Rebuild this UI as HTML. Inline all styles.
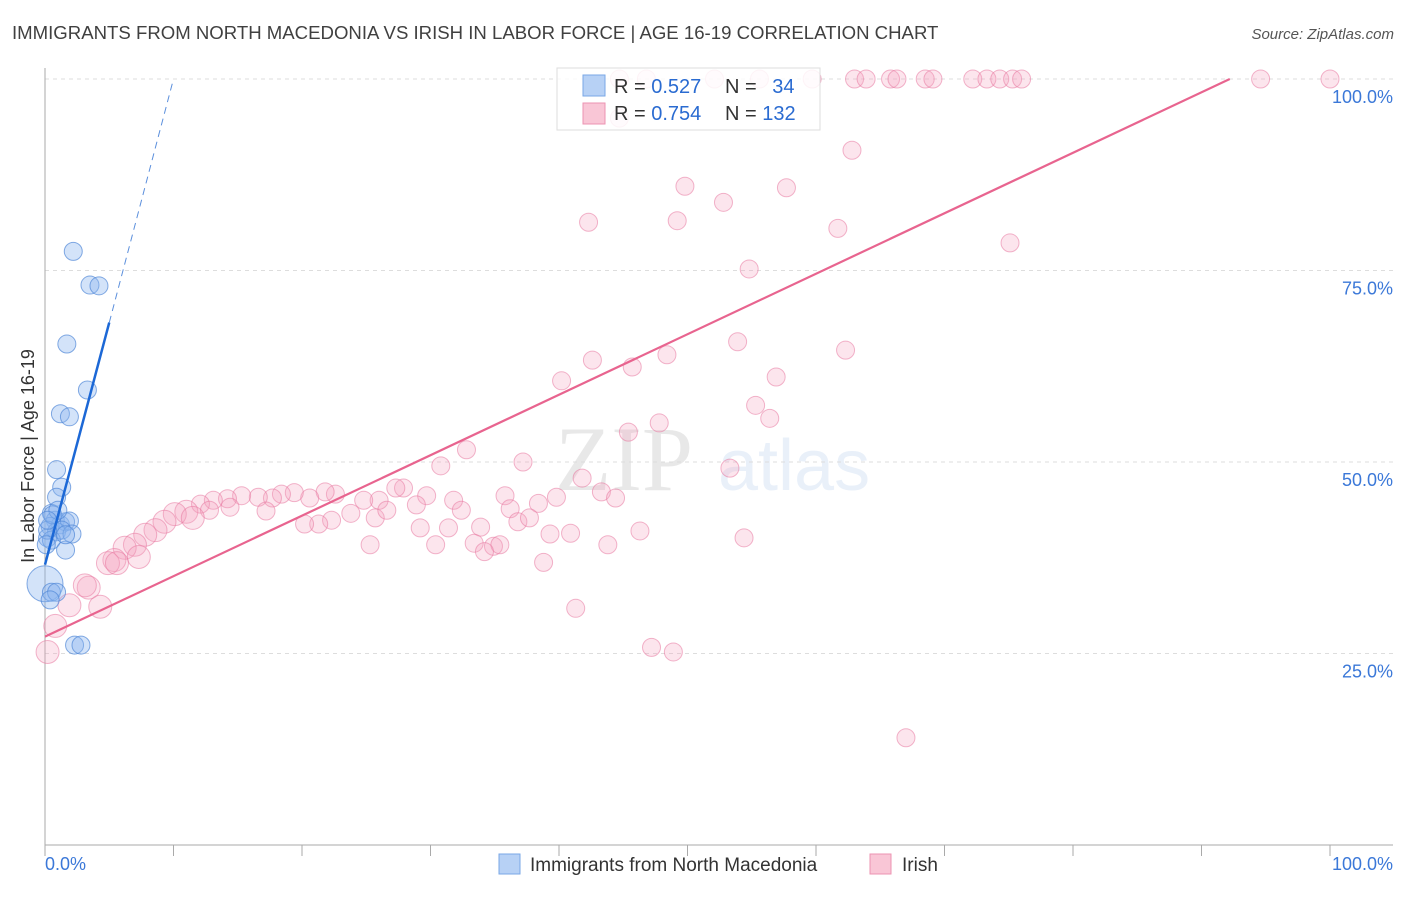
<!DOCTYPE html>
<html><head><meta charset="utf-8"><style>
body{margin:0;background:#fff;font-family:"Liberation Sans",sans-serif}
</style></head><body>
<svg id="chart" width="1406" height="892" xmlns="http://www.w3.org/2000/svg" font-family="Liberation Sans, sans-serif">
<text x="12" y="39" font-size="18.6" fill="#404040">IMMIGRANTS FROM NORTH MACEDONIA VS IRISH IN LABOR FORCE | AGE 16-19 CORRELATION CHART</text>
<text x="1394" y="39" font-size="15" fill="#555" text-anchor="end" font-style="italic">Source: ZipAtlas.com</text>
<text transform="translate(34,456) rotate(-90)" font-size="18" fill="#333" text-anchor="middle">In Labor Force | Age 16-19</text>
<g opacity="0.13"><text x="555" y="490" font-size="92" font-family="Liberation Serif, serif" fill="#555">ZIP</text><text x="718" y="490" font-size="72" fill="#5b8fd8">atlas</text></g>
<g id="grid"></g><g id="axes"></g><g id="pts"></g><g id="lines"></g>
<g>
<rect x="557" y="68" width="263" height="62" fill="#fff" fill-opacity="0.85" stroke="#ddd"/>
<rect x="583" y="75" width="22" height="21" fill="#b7d1f5" stroke="#7aa7e6"/>
<rect x="583" y="103" width="22" height="21" fill="#f9c6d6" stroke="#ec93b2"/>
<text x="614" y="93" font-size="20" fill="#333">R = <tspan fill="#2a6bd1">0.527</tspan></text>
<text x="725" y="93" font-size="20" fill="#333">N = <tspan fill="#2a6bd1" dx="10">34</tspan></text>
<text x="614" y="120" font-size="20" fill="#333">R = <tspan fill="#2a6bd1">0.754</tspan></text>
<text x="725" y="120" font-size="20" fill="#333">N = <tspan fill="#2a6bd1">132</tspan></text>
</g>
<g>
<rect x="499" y="854" width="21" height="20" fill="#b7d1f5" stroke="#7aa7e6"/>
<text x="530" y="871" font-size="19" fill="#333">Immigrants from North Macedonia</text>
<rect x="870" y="854" width="21" height="20" fill="#f9c6d6" stroke="#ec93b2"/>
<text x="902" y="871" font-size="19" fill="#333">Irish</text>
</g>
</svg>
<script>
const blueX=[2.2,3.5,4.2,1.7,3.3,1.2,1.9,0.9,1.3,0.9,0.5,0.8,1.2,1.6,1.9,0.4,0.9,1.3,2.1,0.2,0.5,1.6,0.0,0.5,0.9,0.4,2.3,2.8,0.2,0.6,1.0,0.1,1.6,0.2];
const blueY=[77.5,73.1,73.0,65.4,59.4,56.3,55.9,49.0,46.7,45.4,43.3,42.4,41.8,42.2,42.3,41.6,40.9,41.1,40.6,40.1,39.8,38.5,34.1,33.0,33.0,32.0,26.1,26.1,41.1,43.1,43.7,39.2,40.5,42.4];
const blueBig=[22];
const pinkX=[44.7,46.8,52.1,55.6,59.7,63.0,63.9,65.8,66.3,68.5,69.1,72.2,73.3,74.3,75.3,76.0,94.6,100,
44.7,62.8,49.8,42.3,49.2,52.8,57.7,61.7,75.1,54.8,53.9,62.3,42.6,48.4,45.7,40.2,56.9,55.3,56.4,47.8,45.4,32.8,37.2,30.8,53.3,41.8,43.3,44.4,39.8,35.8,31.8,38.4,36.2,32.4,29.7,28.9,27.9,27.3,26.0,24.8,22.6,21.8,20.6,19.4,18.4,17.7,16.6,15.3,14.2,13.1,12.1,11.0,10.1,9.3,8.6,7.8,7.0,6.2,5.4,4.9,7.3,5.6,3.4,3.1,1.9,4.3,0.8,0.2,
25.7,26.6,23.8,22.3,21.3,20.2,17.2,14.4,12.8,11.5,29.2,31.4,33.9,33.4,34.9,36.8,37.7,35.4,34.2,39.3,40.9,43.8,46.3,54.4,25.3,30.4,38.8,41.3,47.2,48.9,67.0];
const pinkY=[100,100,100,100,100,100,100,100,100,100,100,100,100,100,100,100,100,100,
94.9,90.7,86.0,81.3,81.5,83.9,85.8,80.5,78.6,75.2,65.7,64.6,63.3,64.0,62.4,60.6,61.1,57.4,55.7,55.1,53.9,51.6,50.0,49.5,49.2,47.9,46.1,45.3,45.4,45.6,45.0,44.6,43.9,43.7,45.6,44.4,46.6,46.6,45.0,45.0,45.8,46.1,45.3,46.0,45.8,45.3,45.4,45.6,45.2,45.0,44.5,43.5,43.2,42.2,41.1,40.5,39.2,38.8,37.2,36.8,37.6,36.8,33.6,33.9,31.3,31.1,28.6,25.2,
42.7,43.7,43.3,42.4,41.9,41.9,43.6,44.1,43.7,42.7,41.4,41.4,41.5,39.4,39.0,42.2,42.7,39.2,38.3,40.6,40.7,39.2,41.0,40.1,39.2,39.2,36.9,30.9,25.8,25.2,14.0];
const blueTrend=[0,36.6,5.0,68.2];
const blueDash=[5.0,68.2,10.0,100];
const pinkTrend=[0,27.2,92.2,100];
const yTicks=[25,50,75,100];
const xTickLabels=["0.0%","100.0%"];
const NS="http://www.w3.org/2000/svg";
const X=v=>45+v*12.85, Y=v=>845-v*7.66;
function mk(tag,attrs,parent){const e=document.createElementNS(NS,tag);for(const k in attrs)e.setAttribute(k,attrs[k]);document.getElementById(parent).appendChild(e);return e;}
yTicks.forEach(t=>{
  const l=mk('line',{x1:45,x2:1393,y1:Y(t),y2:Y(t),stroke:'#ddd','stroke-dasharray':'4,4'},'grid');
  
  
  const tx=mk('text',{x:1393,y:Y(t)+24,'font-size':18,fill:'#3b78d8','text-anchor':'end'},'grid');tx.textContent=t.toFixed(1)+'%';
  
  
});
const ax=mk('line',{x1:45,x2:1393,y1:845,y2:845,stroke:'#aaa'},'axes');


const ay=mk('line',{x1:45,x2:45,y1:68,y2:845,stroke:'#aaa'},'axes');


for(let i=0;i<=10;i++){const t=mk('line',{x1:X(i*10),x2:X(i*10),y1:845,y2:856,stroke:'#aaa'},'axes');
  
  }
const xl0=mk('text',{x:45,y:870,'font-size':18,fill:'#3b78d8'},'axes');xl0.textContent=xTickLabels[0];


const xl1=mk('text',{x:1393,y:870,'font-size':18,fill:'#3b78d8','text-anchor':'end'},'axes');xl1.textContent=xTickLabels[1];


pinkX.forEach((x,i)=>{
  const c=mk('circle',{cx:X(x),cy:Y(pinkY[i]),r:(x<12&&pinkY[i]<50)?11.5:9,fill:'rgba(244,160,190,0.28)',stroke:'rgba(232,120,160,0.55)','stroke-width':1},'pts');
  
  
});
blueX.forEach((x,i)=>{
  const c=mk('circle',{cx:X(x),cy:Y(blueY[i]),r:blueBig.includes(i)?18:9,fill:'rgba(140,182,238,0.38)',stroke:'rgba(80,135,215,0.7)','stroke-width':1},'pts');
  
  
});
const bl=mk('line',{x1:X(blueTrend[0]),y1:Y(blueTrend[1]),x2:X(blueTrend[2]),y2:Y(blueTrend[3]),stroke:'#1c68d6','stroke-width':2.5},'lines');


const bd=mk('line',{x1:X(blueDash[0]),y1:Y(blueDash[1]),x2:X(blueDash[2]),y2:Y(blueDash[3]),stroke:'#5b8fdc','stroke-width':1,'stroke-dasharray':'7,5'},'lines');


const pl=mk('line',{x1:X(pinkTrend[0]),y1:Y(pinkTrend[1]),x2:X(pinkTrend[2]),y2:Y(pinkTrend[3]),stroke:'#e8648f','stroke-width':2.2},'lines');


</script>
</body></html>
